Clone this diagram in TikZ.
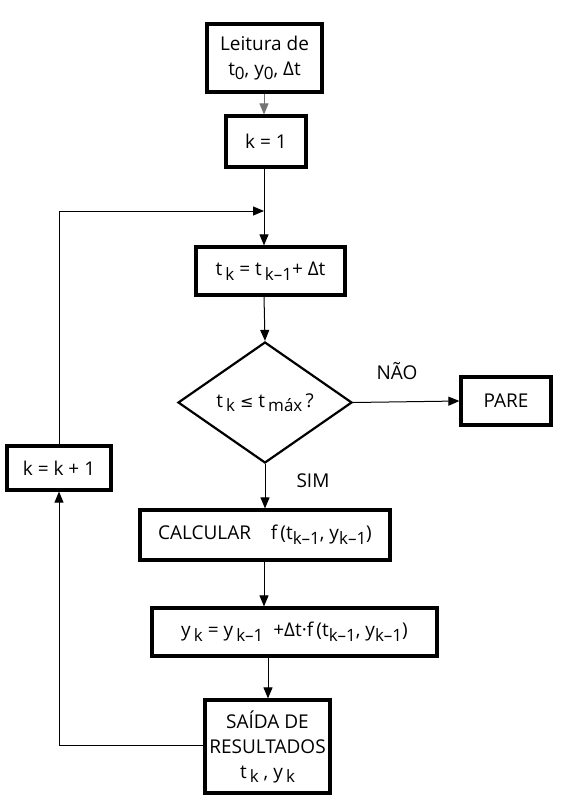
\documentclass[tikz,border=0pt]{standalone}
\usepackage{fontspec}
\setmainfont{Open Sans}
\newfontfamily\symfont{DejaVu Sans}
\usetikzlibrary{shapes.geometric,arrows.meta}
\newcommand{\lo}[1]{\raisebox{-0.45ex}{\fontsize{17}{17}\selectfont #1}}
\begin{document}
\begin{tikzpicture}[x=1pt,y=-1pt,
  box/.style={draw,line width=3.2pt,rectangle,inner sep=1pt,align=center,font=\fontsize{19}{25}\selectfont},
  dec/.style={draw,line width=2.2pt,diamond,inner sep=0pt,font=\fontsize{19}{25}\selectfont,minimum width=174pt,minimum height=121pt},
  conn/.style={line width=1pt},
  arr/.style={conn,-{Triangle[length=11pt,width=9pt]}},
  lbl/.style={font=\fontsize{19}{22}\selectfont}]
\useasboundingbox (0,0) rectangle (561,808);
\fill[white] (0,0) rectangle (561,808);

\node[box,minimum width=115pt,minimum height=68pt] (read) at (264.5,58) {Leitura de\\t\lo{0}, y\lo{0}, Δt};
\node[box,minimum width=80pt,minimum height=51pt] (k1) at (266,141.5) {k = 1};
\node[box,minimum width=149pt,minimum height=48pt] (tk) at (270.5,271) {t\,\lo{k} = t\,\lo{k–1}+ Δt};
\node[dec] (cond) at (265,402.5) {t\,\lo{k} {\symfont\fontsize{16}{16}\selectfont ≤} t\,\lo{máx}\,?};
\node[box,minimum width=90pt,minimum height=48pt] (pare) at (506,401) {PARE};
\node[box,minimum width=250pt,minimum height=50pt] (calc) at (265,535) {CALCULAR~~~~f\,(t\lo{k–1}, y\lo{k–1})};
\node[box,minimum width=285pt,minimum height=48pt] (yk) at (294.5,632) {y\,\lo{k} = y\,\lo{k–1} ~+Δt·f\,(t\lo{k–1}, y\lo{k–1})};
\node[box,minimum width=125pt,minimum height=93pt] (out) at (267.5,746.5) {SAÍDA DE\\RESULTADOS\\t\,\lo{k} , y\,\lo{k}};
\node[box,minimum width=104pt,minimum height=44pt] (inc) at (59,468) {k = k + 1};

\node[lbl] (nao) at (397,371) {NÃO};
\node[lbl] (sim) at (313,481) {SIM};

\coordinate (c1) at (264,92);
\coordinate (c2) at (264,116);
\coordinate (c3) at (264,167);
\coordinate (c4) at (264,247);
\coordinate (m) at (264,211);
\coordinate (c5) at (264,295);
\coordinate (c6) at (264,560);
\coordinate (c7) at (264,608);
\coordinate (c8) at (268,656);
\coordinate (c9) at (268,700);
\coordinate (lt) at (59,211);
\coordinate (lb) at (59,745);

\draw[arr,draw=black!55] (read.south -| c1) -- (k1.north -| c2);
\draw[arr] (k1.south -| c3) -- (tk.north -| c4);
\draw[arr] (inc.north) -- (lt) -- (m);
\draw[arr] (tk.south -| c5) -- (cond.north);
\draw[arr] (cond.east) -- (pare.west);
\draw[arr] (cond.south) -- (calc.north -| cond.south);
\draw[arr] (calc.south -| c6) -- (yk.north -| c7);
\draw[arr] (yk.south -| c8) -- (out.north -| c9);
\draw[arr] (out.west |- lb) -- (lb) -- (inc.south);
\end{tikzpicture}
\end{document}
